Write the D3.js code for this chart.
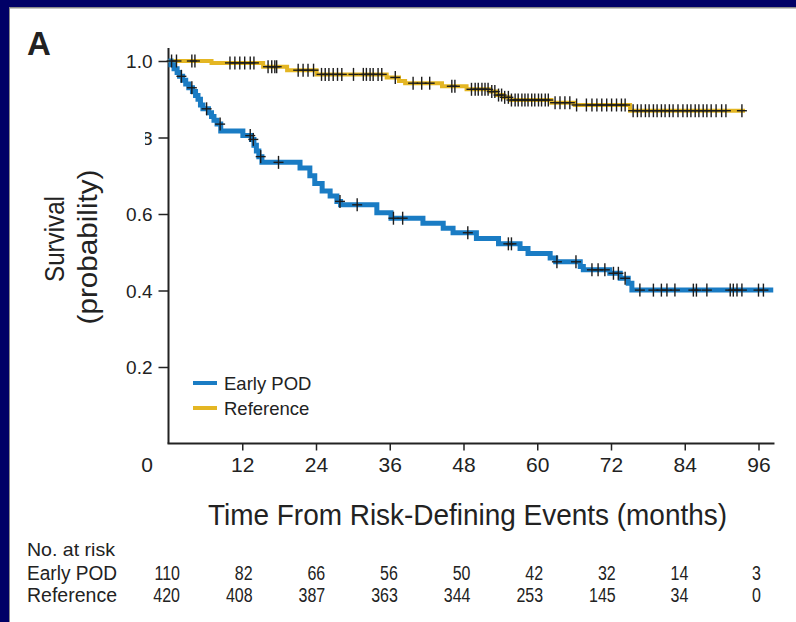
<!DOCTYPE html>
<html>
<head>
<meta charset="utf-8">
<script src="https://cdn.jsdelivr.net/npm/d3@7"></script>
<style>
  html, body { margin: 0; padding: 0; background: #ffffff; }
  svg { display: block; }
  .narrow { font-family: "Liberation Sans Narrow", "Liberation Sans", Arial, sans-serif; }
  .sans { font-family: "Liberation Sans", Arial, Helvetica, sans-serif; }
</style>
</head>
<body>
<svg id="chart" width="796" height="622"></svg>
<script>
// Months shown on the time axis and in the risk table
const months = [0, 12, 24, 36, 48, 60, 72, 84, 96];
const yTicks = [0.2, 0.4, 0.6, 0.8, 1.0];

// Number at risk at each month mark
const riskEarlyPOD = [110, 82, 66, 56, 50, 42, 32, 14, 3];
const riskReference = [420, 408, 387, 363, 344, 253, 145, 34, 0];

// Early POD: Kaplan-Meier steps (month, survival after the step)
const podTimes = [0, 0.4, 0.9, 1.4, 1.8, 2.3, 2.8, 3.3, 3.9, 4.4, 4.8, 5.2, 5.6, 6.5, 7.0, 7.4, 7.9, 8.5,
  12.1, 13.5, 13.9, 14.3, 14.7, 15.2, 21.4, 23.0, 23.8, 25.0, 26.3, 27.4, 28.0, 33.9, 36.2, 41.4, 44.7,
  46.3, 50.1, 53.7, 57.2, 58.5, 62.1, 63.0, 67.0, 67.5, 71.8, 73.5, 74.8, 75.4];
const podSurv = [1.0, 0.99, 0.98, 0.97, 0.96, 0.95, 0.94, 0.93, 0.92, 0.91, 0.90, 0.885, 0.875, 0.865, 0.855, 0.845, 0.835, 0.817,
  0.805, 0.795, 0.78, 0.765, 0.75, 0.735, 0.72, 0.70, 0.68, 0.66, 0.647, 0.633, 0.624, 0.603, 0.589, 0.576, 0.563,
  0.551, 0.536, 0.522, 0.51, 0.497, 0.485, 0.475, 0.463, 0.454, 0.445, 0.432, 0.419, 0.401];
const podEnd = 98.4;
const podCensored = [2.1, 3.8, 6.2, 8.4, 13.3, 13.8, 15.0, 17.9, 27.9, 30.7, 36.6, 38.1, 48.7, 55.3, 55.8,
  63.2, 66.3, 68.9, 69.9, 71.0, 72.4, 73.2, 74.3, 76.7, 78.9, 80.2, 81.1, 82.4, 85.4, 85.9, 87.6,
  91.4, 91.9, 92.5, 93.3, 96.0, 96.8];

// Reference group: Kaplan-Meier steps
const refTimes = [0, 7.0, 15.4, 19.3, 24.1, 35.5, 37.5, 38.5, 44.5, 48.5, 52.3, 53.4, 54.5, 55.6, 62.3, 66.1, 75.1];
const refSurv = [1.0, 0.995, 0.985, 0.976, 0.965, 0.957, 0.948, 0.942, 0.934, 0.926, 0.92, 0.911, 0.905, 0.898, 0.891, 0.885, 0.870];
const refEnd = 93.8;
const refCensored = [0.5, 1.3, 3.8, 4.3, 10.0, 10.8, 11.6, 12.4, 13.3, 13.9, 16.2, 16.8, 17.3, 17.6,
  21.1, 21.9, 22.7, 23.6, 24.9, 25.5, 26.1, 26.8, 27.5, 28.2, 30.1, 31.7, 32.2, 32.8, 33.3, 34.1, 34.7,
  36.9, 39.8, 41.2, 42.5, 46.1, 46.6, 49.3, 49.9, 50.4, 51.0, 51.5, 52.0, 52.6, 53.1, 53.7, 54.2, 54.7,
  55.3, 55.8, 56.4, 56.9, 57.5, 58.0, 58.5, 59.1, 59.6, 60.2, 60.7, 61.3, 61.8, 62.9, 63.7, 64.5, 65.3,
  66.4, 68.0, 68.9, 69.7, 70.5, 71.3, 72.1, 72.9, 73.7, 74.3, 75.6, 76.3, 76.9, 77.6, 78.2, 78.9, 79.5,
  80.2, 80.8, 81.5, 82.1, 82.9, 83.7, 84.4, 85.0, 85.7, 86.3, 87.0, 87.6, 88.3, 89.1, 90.0, 90.7, 93.3];

const seriesNames = ["Early POD", "Reference"];
const colors = { pod: "#1a7cc4", ref: "#e4b623" };

const W = 796, H = 622;
const svg = d3.select("#chart");

// Page frame: navy band on the top and left
svg.append("rect").attr("width", W).attr("height", H).attr("fill", "#000066");
svg.append("rect").attr("x", 9).attr("y", 7).attr("width", W - 9).attr("height", H - 7).attr("fill", "#8a8a8a");
svg.append("rect").attr("x", 10).attr("y", 8.5).attr("width", W - 10).attr("height", H - 8.5).attr("fill", "#ffffff");

// Panel letter
svg.append("text").attr("class", "sans").attr("x", 27).attr("y", 55)
  .attr("font-size", 33).attr("font-weight", "bold").attr("fill", "#222").text("A");

const x = d3.scaleLinear().domain([0, 96]).range([168.5, 758.5]);
const y = d3.scaleLinear().domain([0, 1]).range([443.5, 61]);

const g = svg.append("g");

// Axes lines
g.append("line").attr("x1", x(0)).attr("x2", x(0)).attr("y1", y(0)).attr("y2", y(1.034))
  .attr("stroke", "#222").attr("stroke-width", 2);
g.append("line").attr("x1", x(0) - 1).attr("x2", x(98.6)).attr("y1", y(0)).attr("y2", y(0))
  .attr("stroke", "#222").attr("stroke-width", 2);

// X axis ticks and labels
const xAxis = d3.axisBottom(x).tickValues(months).tickSize(7).tickSizeOuter(0).tickFormat(d3.format("d"));
const xg = g.append("g").attr("transform", `translate(0,${y(0)})`).call(xAxis);
xg.select(".domain").remove();
xg.selectAll(".tick line").attr("stroke", "#222").attr("stroke-width", 1.5);
xg.selectAll(".tick text").attr("class", "sans").attr("font-size", 21).attr("fill", "#222").attr("dy", "0.95em").attr("y", 9);
xg.selectAll(".tick").filter(d => d === 0).select("line").remove();
xg.selectAll(".tick").filter(d => d === 0).select("text").attr("x", -22);

// Y axis ticks and labels
const yAxis = d3.axisLeft(y).tickValues(yTicks).tickSize(10).tickSizeOuter(0).tickFormat(d3.format(".1f"));
const yg = g.append("g").attr("transform", `translate(${x(0)},0)`).call(yAxis);
yg.select(".domain").remove();
yg.selectAll(".tick line").attr("stroke", "#222").attr("stroke-width", 1.5);
yg.selectAll(".tick text").attr("class", "sans").attr("font-size", 19).attr("fill", "#222").attr("x", -16).attr("dy", "0.35em");

// The 0.8 label is partly cut off at the left
svg.append("clipPath").attr("id", "cut08").append("rect")
  .attr("x", -23.5).attr("y", -20).attr("width", 40).attr("height", 40);
yg.selectAll(".tick").filter(d => Math.abs(d - 0.8) < 1e-9).select("text").attr("clip-path", "url(#cut08)");

// Axis titles (condensed lettering)
svg.append("text").attr("class", "narrow")
  .attr("x", (x(0) + x(96)) / 2 + 4).attr("y", 525)
  .attr("text-anchor", "middle").attr("font-size", 30).attr("fill", "#222")
  .attr("textLength", 519).attr("lengthAdjust", "spacingAndGlyphs")
  .text("Time From Risk-Defining Events (months)");

svg.append("text").attr("class", "narrow")
  .attr("transform", "translate(64,239) rotate(-90)")
  .attr("text-anchor", "middle").attr("font-size", 28).attr("fill", "#222")
  .attr("textLength", 86).attr("lengthAdjust", "spacingAndGlyphs")
  .text("Survival");
svg.append("text").attr("class", "narrow")
  .attr("transform", "translate(97,247) rotate(-90)")
  .attr("text-anchor", "middle").attr("font-size", 28).attr("fill", "#222")
  .attr("textLength", 155).attr("lengthAdjust", "spacingAndGlyphs")
  .text("(probability)");

// Kaplan-Meier curves
function stepsFrom(times, surv, end) {
  const pts = times.map((t, i) => [t, surv[i]]);
  pts.push([end, surv[surv.length - 1]]);
  return pts;
}
function survAt(times, surv, t) {
  let s = surv[0];
  for (let i = 0; i < times.length; i++) { if (times[i] <= t) s = surv[i]; }
  return s;
}
const line = d3.line().x(d => x(d[0])).y(d => y(d[1])).curve(d3.curveStepAfter);

const curves = [
  { key: "ref", times: refTimes, surv: refSurv, end: refEnd, cens: refCensored, width: 4 },
  { key: "pod", times: podTimes, surv: podSurv, end: podEnd, cens: podCensored, width: 5 }
];

curves.forEach(c => {
  g.append("path").datum(stepsFrom(c.times, c.surv, c.end))
    .attr("d", line).attr("fill", "none")
    .attr("stroke", colors[c.key]).attr("stroke-width", c.width)
    .attr("stroke-linejoin", "miter");
});

// Censoring marks
curves.forEach(c => {
  const marks = g.append("g").attr("stroke", "#1c1c1c").attr("stroke-width", 1.4);
  c.cens.forEach(t => {
    const cx = x(t), cy = y(survAt(c.times, c.surv, t));
    marks.append("line").attr("x1", cx).attr("x2", cx).attr("y1", cy - 6.5).attr("y2", cy + 6.5);
    marks.append("line").attr("x1", cx - 5).attr("x2", cx + 5).attr("y1", cy).attr("y2", cy);
  });
});

// Legend
const legend = svg.append("g");
[["pod", 0], ["ref", 1]].forEach(([key, i]) => {
  const ly = 383 + i * 25;
  legend.append("line").attr("x1", 193).attr("x2", 217).attr("y1", ly).attr("y2", ly)
    .attr("stroke", colors[key]).attr("stroke-width", 4);
  legend.append("text").attr("class", "sans").attr("x", 224).attr("y", ly + 6.5)
    .attr("font-size", 18.5).attr("fill", "#222").text(seriesNames[i]);
});

// Number-at-risk table (condensed lettering)
const tx = d3.scaleLinear().domain([0, 96]).range([180, 761]);
svg.append("text").attr("class", "narrow").attr("x", 27).attr("y", 556)
  .attr("font-size", 19).attr("fill", "#222")
  .attr("textLength", 88).attr("lengthAdjust", "spacingAndGlyphs")
  .text("No. at risk");
[riskEarlyPOD, riskReference].forEach((row, r) => {
  const ry = 580 + r * 22;
  svg.append("text").attr("class", "narrow").attr("x", 27).attr("y", ry)
    .attr("font-size", 19.5).attr("fill", "#222")
    .attr("textLength", 90).attr("lengthAdjust", "spacingAndGlyphs")
    .text(seriesNames[r]);
  svg.append("g").selectAll("text").data(row).join("text")
    .attr("class", "narrow")
    .attr("transform", (d, i) => `translate(${tx(months[i])},${ry}) scale(0.82,1)`)
    .attr("text-anchor", "end").attr("font-size", 19.5).attr("fill", "#222")
    .text(d => d);
});
</script>
</body>
</html>
